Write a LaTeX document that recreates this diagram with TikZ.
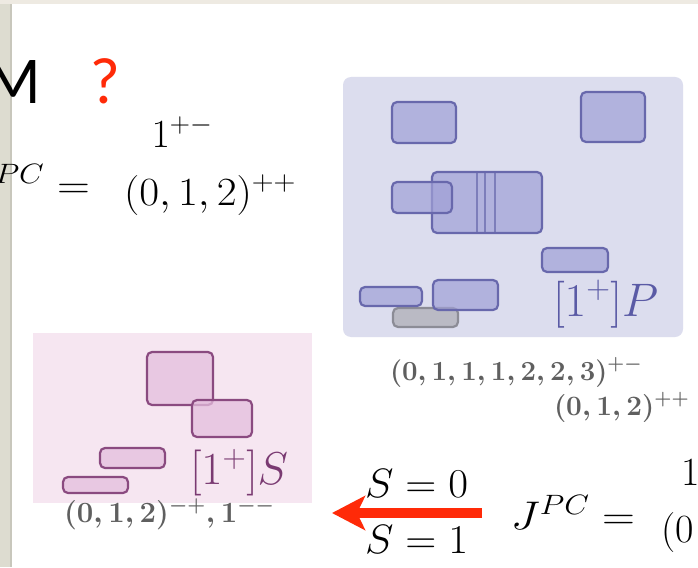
\RequirePackage{fix-cm}
\documentclass[tikz,border=0pt]{standalone}
\usepackage{fontspec}
\newfontfamily\slidesans{Lato}
\usetikzlibrary{arrows.meta}
\definecolor{framebeige}{RGB}{238,234,226}
\definecolor{stripgray}{RGB}{221,220,208}
\definecolor{stripdark}{RGB}{200,199,188}
\definecolor{panelblue}{RGB}{220,221,238}
\definecolor{boxblue}{RGB}{160,160,214}
\definecolor{edgeblue}{RGB}{104,104,172}
\definecolor{boxgray}{RGB}{178,178,186}
\definecolor{edgegray}{RGB}{140,140,150}
\definecolor{panelpink}{RGB}{246,230,241}
\definecolor{boxpink}{RGB}{228,190,221}
\definecolor{edgepink}{RGB}{138,74,128}
\definecolor{labblue}{RGB}{90,90,165}
\definecolor{labpink}{RGB}{122,58,114}
\definecolor{graytext}{RGB}{95,95,95}
\definecolor{slidered}{RGB}{255,42,8}
\tikzset{
  txt/.style={inner sep=0pt, outer sep=0pt},
  bigmath/.style={txt, font=\fontsize{40}{48}\selectfont},
  labmath/.style={txt, font=\fontsize{41}{49}\selectfont},
  smallmath/.style={txt, text=graytext},
  bluebox/.style={fill=boxblue, fill opacity=0.7, draw=edgeblue, line width=2.2pt, rounded corners=5pt},
  graybox/.style={fill=boxgray, fill opacity=0.8, draw=edgegray, line width=2.2pt, rounded corners=5pt},
  pinkbox/.style={fill=boxpink, fill opacity=0.75, draw=edgepink, line width=2.2pt, rounded corners=5pt},
  redarrow/.style={draw=slidered, line width=10pt, -{Stealth[length=33pt, width=34pt, inset=8pt]}},
}
\begin{document}
\begin{tikzpicture}[x=1pt, y=-1pt]
\clip (0,0) rectangle (698,567);
% slide frame
\fill[framebeige] (0,0) rectangle (698,567);
\fill[white] (12,4) rectangle (698,567);
\fill[stripgray] (0,4) rectangle (12,567);
\fill[stripdark] (10,4) rectangle (12,567);

% heading
\node[txt, anchor=base east, font=\slidesans\fontsize{60}{70}\selectfont] (headM) at (41,103) {M};
\node[txt, anchor=base west, text=slidered, font=\slidesans\fontsize{62}{70}\selectfont] (qmark) at (91,103) {?};

% top-left J^PC
\node[bigmath, anchor=base east] (jpcA) at (90,198.5) {\scalebox{1.14}[1]{$J^{PC}=$}};
\node[bigmath, anchor=base] (rowA1) at (182,147) {$1^{+-}$};
\node[bigmath, anchor=base west] (rowA2) at (124,205) {\scalebox{1.08}[1]{$(0,1,2)^{++}$}};

% blue panel
\fill[panelblue, rounded corners=8pt] (343,77) rectangle (683,337);
\draw[graybox] (393,308) rectangle (458,327);
\draw[bluebox] (392,102) rectangle (456,143);
\draw[bluebox] (581,92) rectangle (645,142);
\draw[bluebox] (432,172) rectangle (542,233);
\draw[edgeblue, line width=2pt, opacity=0.7] (477,172) -- (477,233) (485,172) -- (485,233) (495,172) -- (495,233);
\draw[bluebox] (392,182) rectangle (452,213);
\draw[bluebox] (542,248) rectangle (608,272);
\draw[bluebox] (360,287) rectangle (422,306);
\draw[bluebox] (433,280) rectangle (498,310);
\node[txt, anchor=base west, text=labblue, font=\fontsize{47}{55}\selectfont] (labP) at (553,316) {$[1^+]P$};
\node[smallmath, anchor=base west, font=\fontsize{27.6}{33}\selectfont\boldmath] (tripA) at (390,380) {$(0,1,1,1,2,2,3)^{+-}$};
\node[smallmath, anchor=base west, font=\fontsize{28}{34}\selectfont\boldmath] (tripB) at (554,415) {$(0,1,2)^{++}$};

% pink panel
\fill[panelpink] (33,333) rectangle (312,503);
\draw[pinkbox] (147,352) rectangle (213,405);
\draw[pinkbox] (192,400) rectangle (252,437);
\draw[pinkbox] (100,448) rectangle (165,468);
\draw[pinkbox] (63,477) rectangle (128,493);
\node[txt, anchor=base west, text=labpink, font=\fontsize{46}{54}\selectfont] (labS) at (190,484) {$[1^+]S$};
\node[smallmath, anchor=base west, font=\fontsize{29.3}{35}\selectfont\boldmath] (singS) at (64,522) {$(0,1,2)^{-+},1^{--}$};

% arrow with spin labels
\coordinate (arrtail) at (482,513);
\coordinate (arrtip) at (332,513);
\draw[redarrow] (arrtail) -- (arrtip);
\node[labmath, anchor=base west] (spin0) at (365,497) {\scalebox{1.05}[1]{$S=0$}};
\node[labmath, anchor=base west] (spin1) at (365,553) {\scalebox{1.05}[1]{$S=1$}};

% bottom-right J^PC
\node[bigmath, anchor=base east] (jpcB) at (635,529) {\scalebox{1.14}[1]{$J^{PC}=$}};
\node[bigmath, anchor=base west] (rowB1) at (681,485) {$1$};
\node[bigmath, anchor=base west] (rowB2) at (661,542) {$(0$};
\end{tikzpicture}
\end{document}
